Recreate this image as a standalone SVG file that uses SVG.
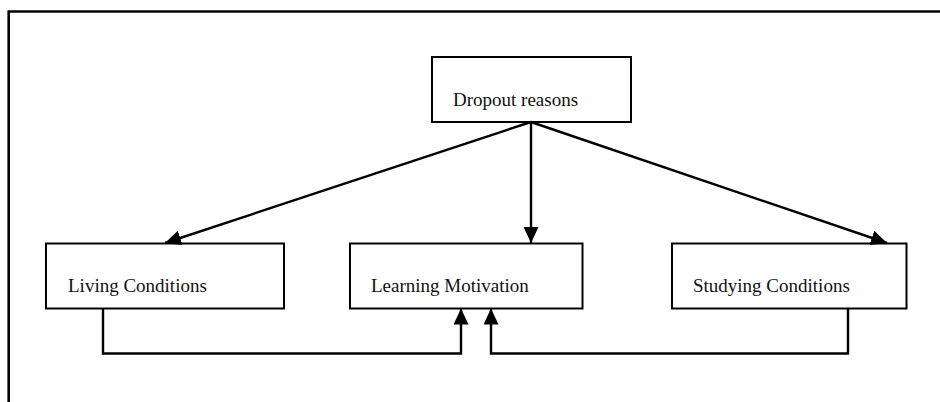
<svg xmlns="http://www.w3.org/2000/svg" width="940" height="402" viewBox="0 0 940 402">
<style>
.box{fill:#fff;stroke:#000;stroke-width:2}
.lbl{font-family:"Liberation Serif","Times New Roman",serif;font-size:19px;fill:#111}
.ln{fill:none;stroke:#000;stroke-width:2.4}
</style>
<defs>
<marker id="ah" markerUnits="userSpaceOnUse" markerWidth="17" markerHeight="16" refX="16" refY="7.5" orient="auto">
<path d="M0,0 L16,7.5 L0,15 z" fill="#000"/>
</marker>
</defs>
<rect width="940" height="402" fill="#fff"/>
<path d="M8.7,402 V11.5 H940" fill="none" stroke="#000" stroke-width="2.6"/>
<g id="dropout"><rect class="box" x="432" y="57" width="199" height="65"/><text class="lbl" x="453" y="106">Dropout reasons</text></g>
<g id="living"><rect class="box" x="46" y="243.5" width="238" height="65"/><text class="lbl" x="68" y="292">Living Conditions</text></g>
<g id="learning"><rect class="box" x="350" y="243.5" width="232.5" height="65"/><text class="lbl" x="371" y="292">Learning Motivation</text></g>
<g id="studying"><rect class="box" x="672" y="243.5" width="234.5" height="65"/><text class="lbl" x="693" y="292">Studying Conditions</text></g>
<g id="connectors">
<path class="ln" d="M531,122 L165,243" marker-end="url(#ah)"/>
<path class="ln" d="M531,122 V243" marker-end="url(#ah)"/>
<path class="ln" d="M531,122 L887,243" marker-end="url(#ah)"/>
<path class="ln" d="M103,308.5 V353.5 H461 V308.5" marker-end="url(#ah)"/>
<path class="ln" d="M848,308.5 V353.5 H491 V308.5" marker-end="url(#ah)"/>
</g>
</svg>
